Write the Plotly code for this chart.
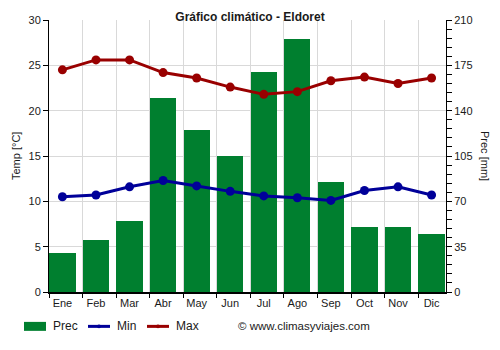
import plotly.graph_objects as go

# Monthly climate data for Eldoret
months = ["Ene", "Feb", "Mar", "Abr", "May", "Jun", "Jul", "Ago", "Sep", "Oct", "Nov", "Dic"]
prec_mm = [30, 40, 55, 150, 125, 105, 170, 195, 85, 50, 50, 45]
temp_min = [10.5, 10.7, 11.6, 12.3, 11.7, 11.1, 10.6, 10.4, 10.1, 11.2, 11.6, 10.7]
temp_max = [24.5, 25.6, 25.6, 24.2, 23.6, 22.6, 21.8, 22.1, 23.3, 23.7, 23.0, 23.6]

GREEN = "#007f2f"
RED = "#990000"
BLUE = "#000099"
GRID = "#d9d9d9"
FONT = "Liberation Sans, Arial, sans-serif"

xs = list(range(len(months)))

fig = go.Figure()

# Precipitation bars on the right-hand axis (drawn underneath)
fig.add_trace(go.Bar(x=xs, y=prec_mm, width=0.78, marker=dict(color=GREEN, line=dict(width=0)),
                     yaxis="y", name="Prec"))

# Temperature lines on the left-hand axis (overlay, drawn on top)
fig.add_trace(go.Scatter(x=xs, y=temp_min, mode="lines+markers", yaxis="y2", name="Min",
                         line=dict(color=BLUE, width=3), marker=dict(size=9, color=BLUE)))
fig.add_trace(go.Scatter(x=xs, y=temp_max, mode="lines+markers", yaxis="y2", name="Max",
                         line=dict(color=RED, width=3), marker=dict(size=9, color=RED)))

W, H = 500, 350
L, R, T, B = 49, 54, 19.5, 57.5

fig.update_layout(
    width=W, height=H,
    margin=dict(l=L, r=R, t=T, b=B),
    paper_bgcolor="white", plot_bgcolor="white",
    showlegend=False,
    font=dict(family=FONT, size=11, color="#1a1a1a"),
    bargap=0,
    title=dict(text="<b>Gráfico climático - Eldoret</b>", x=0.5, xanchor="center",
               y=1 - 17 / H, yanchor="middle", font=dict(family=FONT, size=12, color="#1a1a1a")),
    xaxis=dict(
        range=[-0.4, 11.43],
        tickmode="array", tickvals=xs, ticktext=months, ticks="",
        showgrid=False, zeroline=False,
        showline=True, linecolor="black", linewidth=2,
        tickfont=dict(size=11),
        minor=dict(tick0=-0.4, dtick=1, ticks="outside", ticklen=4, tickcolor="black",
                   showgrid=True, gridcolor=GRID, gridwidth=1),
    ),
    yaxis=dict(
        side="right", range=[0, 210], tickmode="linear", tick0=0, dtick=35,
        ticks="outside", ticklen=5, tickcolor="black",
        showgrid=False, zeroline=False,
        showline=True, linecolor="black", linewidth=1,
        tickfont=dict(size=11),
        minor=dict(dtick=7, ticks="outside", ticklen=5, tickcolor="black", showgrid=False),
    ),
    yaxis2=dict(
        side="left", overlaying="y", range=[0, 30], tickmode="linear", tick0=0, dtick=5,
        ticks="outside", ticklen=5, tickcolor="black",
        showgrid=True, gridcolor=GRID, gridwidth=1, zeroline=False,
        showline=True, linecolor="black", linewidth=1,
        tickfont=dict(size=11),
    ),
)

# Axis titles
fig.add_annotation(text="Temp [°C]", xref="paper", yref="paper", x=-(L - 16) / (W - L - R), y=0.5,
                   textangle=-90, showarrow=False, font=dict(size=11), xanchor="center", yanchor="middle")
fig.add_annotation(text="Prec [mm]", xref="paper", yref="paper", x=1 + (485 - (W - R)) / (W - L - R), y=0.5,
                   textangle=90, showarrow=False, font=dict(size=11), xanchor="center", yanchor="middle")

# Legend drawn along the bottom
pw, ph = W - L - R, H - T - B


def px_x(v):
    return (v - L) / pw


def px_y(v):
    return (H - B - v) / ph


ly = 327
fig.add_shape(type="rect", xref="paper", yref="paper", x0=px_x(24), x1=px_x(46),
              y0=px_y(ly + 4.5), y1=px_y(ly - 4.5), fillcolor=GREEN, line=dict(width=0))
for x0, col in [(88, BLUE), (147, RED)]:
    fig.add_shape(type="line", xref="paper", yref="paper", x0=px_x(x0), x1=px_x(x0 + 22),
                  y0=px_y(ly), y1=px_y(ly), line=dict(color=col, width=3))
    fig.add_shape(type="circle", xref="paper", yref="paper", x0=px_x(x0 + 9), x1=px_x(x0 + 13),
                  y0=px_y(ly + 2), y1=px_y(ly - 2), fillcolor=col, line=dict(width=0))
for x0, txt in [(51, "Prec"), (115, "Min"), (174, "Max"), (236, "© www.climasyviajes.com")]:
    fig.add_annotation(text=txt, xref="paper", yref="paper", x=px_x(x0), y=px_y(ly),
                       xanchor="left", yanchor="middle", showarrow=False,
                       font=dict(size=12 if txt != "© www.climasyviajes.com" else 11.5))

fig.write_html("out.html")
